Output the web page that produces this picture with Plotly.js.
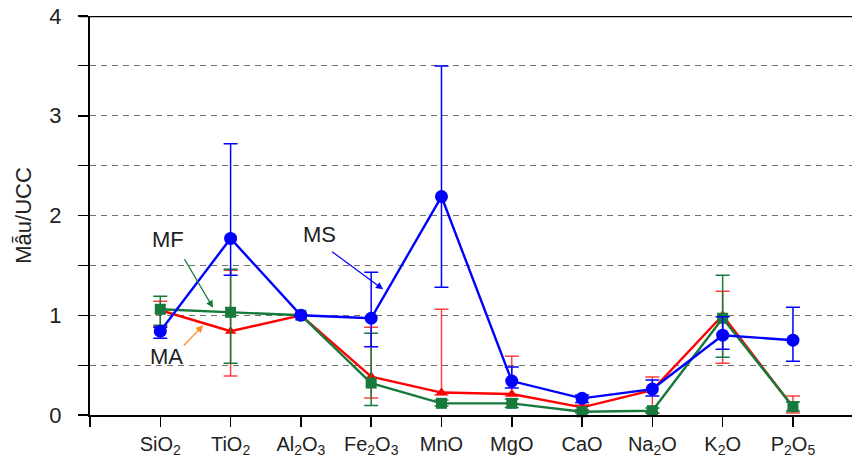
<!DOCTYPE html>
<html>
<head>
<meta charset="utf-8">
<script src="https://cdn.plot.ly/plotly-3.0.1.min.js"></script>
<style>html,body{margin:0;padding:0;background:#fff;}#chart{width:852px;height:468px;}</style>
</head>
<body>
<div id="chart"></div>
<script>
// Categories (oxides) and their tick labels
const categories = [1, 2, 3, 4, 5, 6, 7, 8, 9, 10];
const tickLabels = ['SiO<sub>2</sub>', 'TiO<sub>2</sub>', 'Al<sub>2</sub>O<sub>3</sub>', 'Fe<sub>2</sub>O<sub>3</sub>', 'MnO', 'MgO', 'CaO', 'Na<sub>2</sub>O', 'K<sub>2</sub>O', 'P<sub>2</sub>O<sub>5</sub>'];

// MS series (blue)
const msValues   = [0.84, 1.77, 1.00, 0.97, 2.19, 0.34, 0.167, 0.26, 0.80, 0.75];
const msErrPlus  = [0.04, 0.95, 0, 0.46, 1.31, 0.14, 0.033, 0.09, 0.185, 0.33];
const msErrMinus = [0.07, 0.37, 0, 0.285, 0.91, 0.07, 0.042, 0.07, 0.14, 0.21];

// MA series (red)
const maValues   = [1.05, 0.84, 1.00, 0.385, 0.225, 0.21, 0.077, 0.25, 1.00, 0.08];
const maErrPlus  = [0.09, 0.61, 0, 0.495, 0.835, 0.38, 0.023, 0.13, 0.24, 0.11];
const maErrMinus = [0.165, 0.45, 0, 0.215, 0.025, 0.02, 0.027, 0.23, 0.48, 0.06];

// MF series (green)
const mfValues   = [1.06, 1.03, 1.00, 0.32, 0.117, 0.117, 0.033, 0.043, 0.97, 0.083];
const mfErrPlus  = [0.13, 0.43, 0, 0.50, 0.033, 0.043, 0.017, 0.027, 0.43, 0.047];
const mfErrMinus = [0.16, 0.51, 0, 0.225, 0.027, 0.042, 0.013, 0.023, 0.39, 0.043];

const BLUE = '#0000ff', RED = '#ff0000', GREEN = '#177a3c', ORANGE = '#ff8a1c';
const FONT = 'Liberation Sans, Arial, sans-serif';

function trace(name, y, plus, minus, color, errColor, symbol, size) {
  return {
    type: 'scatter', mode: 'lines+markers', name: name,
    x: categories, y: y,
    line: {color: color, width: 2.4},
    marker: {color: color, symbol: symbol, size: size},
    error_y: {type: 'data', symmetric: false, array: plus, arrayminus: minus,
              color: errColor, thickness: 1.5, width: 7},
    cliponaxis: false
  };
}

const data = [
  trace('MA', maValues, maErrPlus, maErrMinus, RED, 'rgba(255,0,0,0.75)', 'triangle-up', 10),
  trace('MF', mfValues, mfErrPlus, mfErrMinus, GREEN, GREEN, 'square', 11),
  trace('MS', msValues, msErrPlus, msErrMinus, BLUE, BLUE, 'circle', 13)
];

const layout = {
  width: 852, height: 468,
  margin: {l: 90, r: 0, t: 16, b: 53},
  paper_bgcolor: '#fff', plot_bgcolor: '#fff',
  showlegend: false,
  font: {family: FONT, size: 20, color: '#000'},
  xaxis: {
    range: [0, 10.84], tickmode: 'array',
    tickvals: categories, ticktext: tickLabels,
    ticks: 'outside', ticklen: 10, tickwidth: 1.5, tickcolor: '#000',
    showline: true, linecolor: '#000', linewidth: 2,
    showgrid: false, zeroline: false,
    minor: {tickvals: [0], ticks: 'outside', ticklen: 10, tickwidth: 1.5, tickcolor: '#000', showgrid: false},
    tickfont: {family: FONT, size: 20, color: '#222'}
  },
  yaxis: {
    range: [0, 4], dtick: 1, tick0: 0,
    ticks: 'outside', ticklen: 10, tickwidth: 1.5, tickcolor: '#000',
    showline: true, linecolor: '#000', linewidth: 2,
    showgrid: true, gridcolor: '#707070', griddash: '6px,5px', gridwidth: 1,
    zeroline: false,
    minor: {dtick: 0.5, ticks: 'outside', ticklen: 10, tickwidth: 1, tickcolor: '#000',
            showgrid: true, gridcolor: '#707070', griddash: '6px,5px', gridwidth: 1},
    tickfont: {family: FONT, size: 22, color: '#222'},
    ticklabelstandoff: 12,
    title: {text: 'Mẫu/UCC', font: {family: FONT, size: 22, color: '#222'}, standoff: 12}
  },
  shapes: [
    {type: 'line', xref: 'paper', yref: 'y', x0: -0.014, x1: 1, y0: 4, y1: 4,
     line: {color: '#000', width: 2.5}}
  ],
  annotations: [
    {x: 1.11, y: 1.76, xref: 'x', yref: 'y', text: 'MF', showarrow: false,
     font: {family: FONT, size: 22, color: '#222'}},
    {x: 1.75, y: 1.075, xref: 'x', yref: 'y', ax: 1.28, ay: 1.64, axref: 'x', ayref: 'y',
     text: ' ', showarrow: true, arrowhead: 2, arrowsize: 1.2, arrowwidth: 1.2, arrowcolor: GREEN},
    {x: 1.09, y: 0.59, xref: 'x', yref: 'y', text: 'MA', showarrow: false,
     font: {family: FONT, size: 22, color: '#222'}},
    {x: 1.61, y: 0.90, xref: 'x', yref: 'y', ax: 1.27, ay: 0.65, axref: 'x', ayref: 'y',
     text: ' ', showarrow: true, arrowhead: 2, arrowsize: 1.2, arrowwidth: 1.2, arrowcolor: ORANGE},
    {x: 3.27, y: 1.81, xref: 'x', yref: 'y', text: 'MS', showarrow: false,
     font: {family: FONT, size: 22, color: '#222'}},
    {x: 4.17, y: 1.26, xref: 'x', yref: 'y', ax: 3.38, ay: 1.67, axref: 'x', ayref: 'y',
     text: ' ', showarrow: true, arrowhead: 2, arrowsize: 1.2, arrowwidth: 1.2, arrowcolor: BLUE}
  ]
};

Plotly.newPlot('chart', data, layout, {displayModeBar: false, staticPlot: true});
</script>
</body>
</html>
